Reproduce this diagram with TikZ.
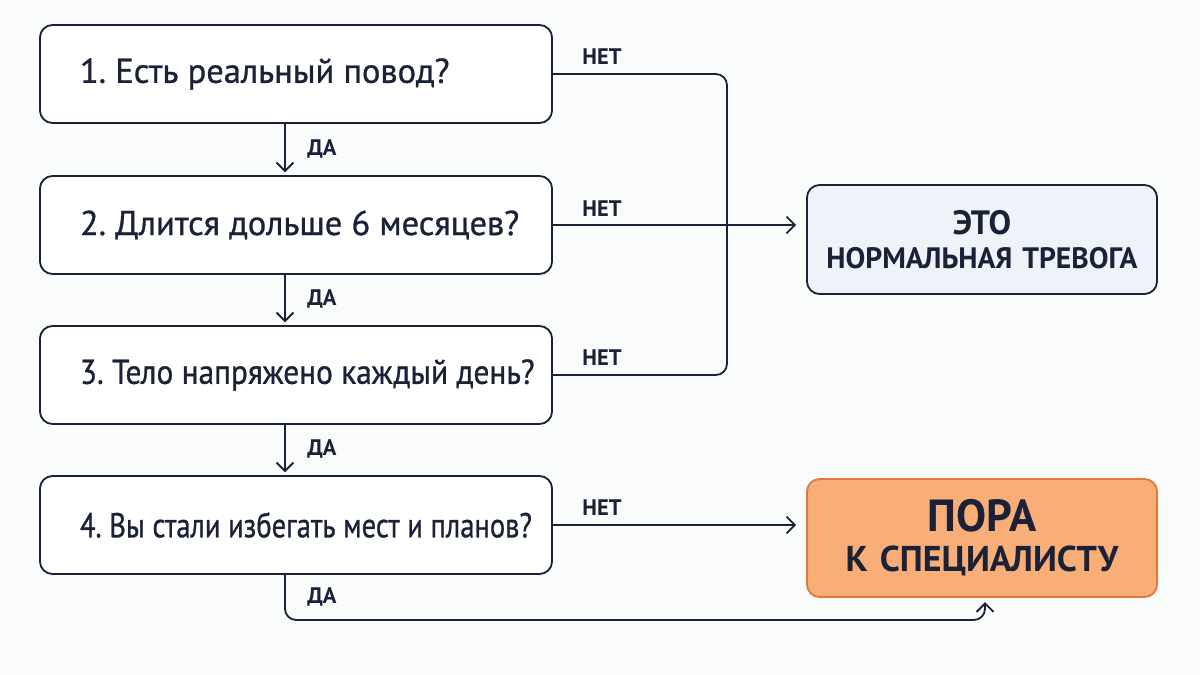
\documentclass[tikz,border=0pt]{standalone}
\usepackage{fontspec}
\setmainfont{PT Sans}
\usetikzlibrary{calc,arrows.meta}

\definecolor{ink}{HTML}{1B2238}
\definecolor{paleblue}{HTML}{EEF3F9}
\definecolor{peach}{HTML}{F9AE78}
\definecolor{peachline}{HTML}{E2783A}

% question text, left aligned, never wrapped
\newcommand{\asktext}[2][1]{\makebox[11.8cm][l]{\hspace*{0.5cm}\scalebox{#1}[1]{#2}}}

\begin{document}
\frenchspacing
\begin{tikzpicture}[x=0.025cm,y=-0.025cm,
  question/.style={draw=ink,line width=1.3pt,rounded corners=9pt,fill=white,
    minimum height=2.45cm,inner xsep=0.5cm,
    text=ink,font=\fontsize{24.5}{29}\selectfont\addfontfeature{FakeBold=0.9}},
  verdict/.style={draw=ink,line width=1.3pt,rounded corners=9pt,
    minimum width=8.75cm,text width=8.2cm,align=center,text=ink},
  answer/.style={text=ink,font=\bfseries\fontsize{16}{18}\selectfont},
  link/.style={draw=ink,line width=1.3pt,rounded corners=8pt},
  go/.style={link,-{Straight Barb[length=6pt,width=12pt]}}]

\fill[white!98!ink] (0,0) rectangle (1200,675);

\node[question] (q1) at (296,74) {\asktext{1. Есть реальный повод?}};
\node[question] (q2) at (296,225) {\asktext{2. Длится дольше 6 месяцев?}};
\node[question] (q3) at (296,375) {\asktext[0.91]{3. Тело напряжено каждый день?}};
\node[question] (q4) at (296,525) {\asktext[0.83]{4. Вы стали избегать мест и планов?}};

\node[verdict,fill=paleblue,minimum height=2.725cm,
  font=\bfseries\fontsize{21}{24}\selectfont] (calm) at (982,239.5)
  {{\fontsize{24}{24}\selectfont ЭТО}\\
   НОРМАЛЬНАЯ ТРЕВОГА};
\node[verdict,fill=peach,draw=peachline,minimum height=2.95cm,
  font=\bfseries\fontsize{25.5}{28.5}\selectfont] (doc) at (982,538)
  {{\fontsize{32}{28.5}\selectfont ПОРА}\\
   К СПЕЦИАЛИСТУ};

% yes: straight down
\coordinate (x1) at (285,0);
\foreach \a/\b/\y in {q1/q2/149,q2/q3/299,q3/q4/449}{
  \draw[go,shorten >=2pt] (\a.south -| x1) -- (\b.north -| x1);
  \node[answer] (yes-\a) at (322,\y) {ДА};
}

% no: to the calm box
\coordinate (bend) at (727,0);
\draw[link] (q1.east) -- (q1.east -| bend) -- (q3.east -| bend) -- (q3.east);
\draw[go,shorten >=7pt] (q2.east) -- (q2.east -| calm.west);
\node[answer] (no1) at (602,57) {НЕТ};
\node[answer] (no2) at (602,209) {НЕТ};
\node[answer] (no3) at (602,358) {НЕТ};

% last question
\draw[go,shorten >=7pt] (q4.east) -- (q4.east -| doc.west);
\node[answer] (no4) at (602,508) {НЕТ};
\coordinate (low) at (285,620);
\coordinate (up) at (985,620);
\draw[go,shorten >=3pt] (q4.south -| low) -- (low) -- (up) -- (up |- doc.south);
\node[answer] (yes4) at (322,597) {ДА};

\end{tikzpicture}
\end{document}
